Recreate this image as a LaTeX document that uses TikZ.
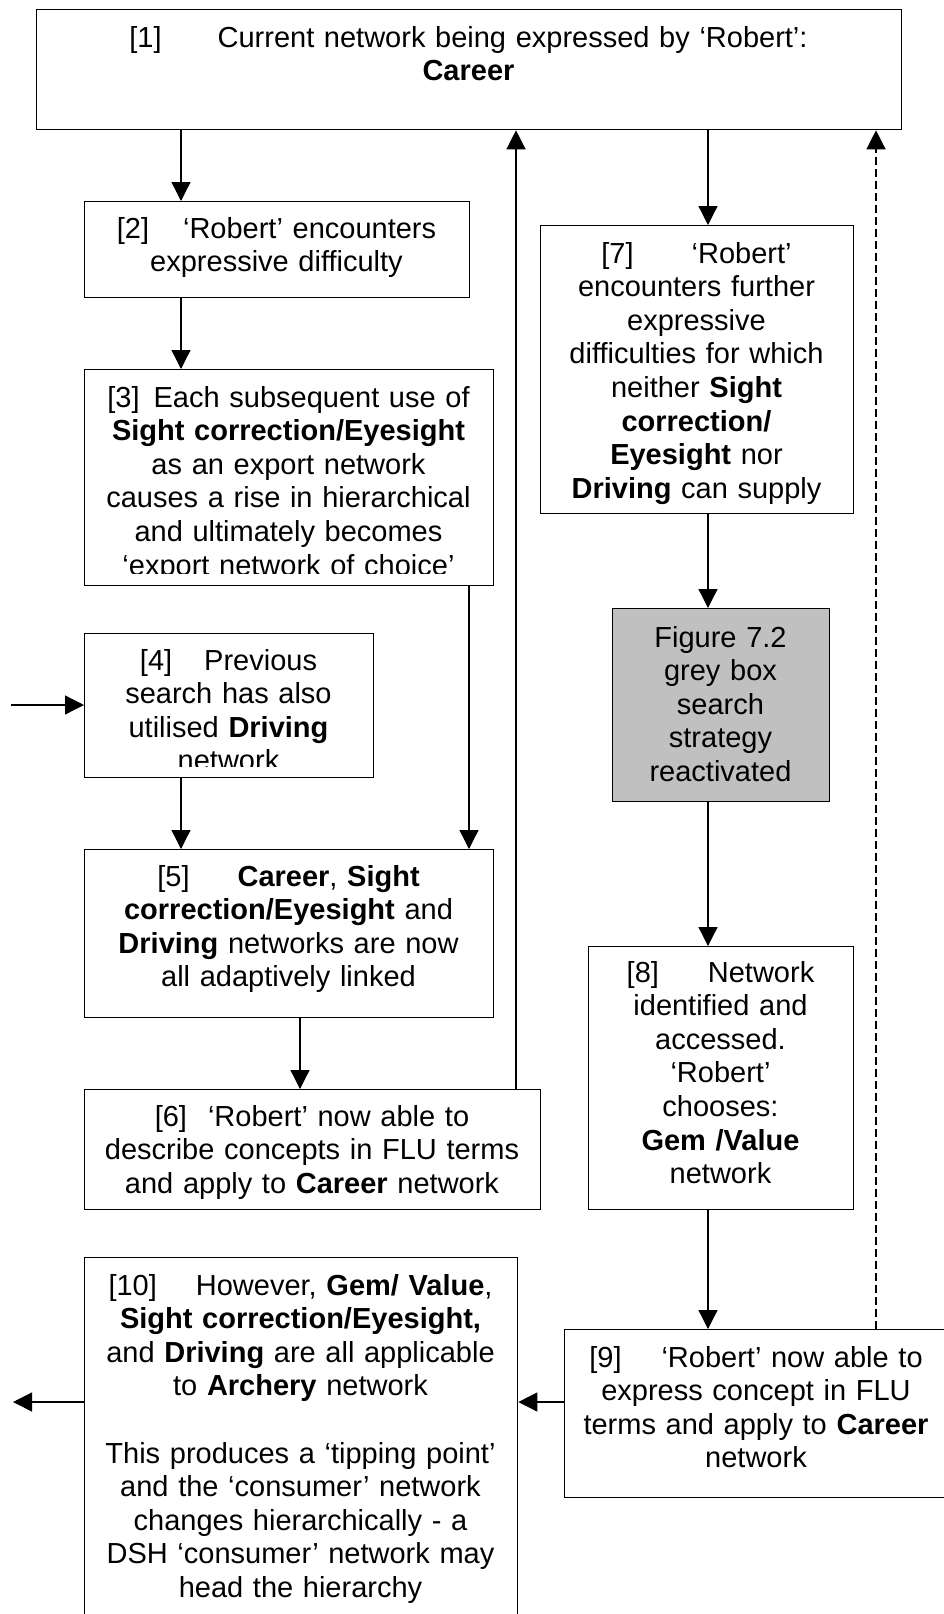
\documentclass[tikz,border=0pt]{standalone}
\usepackage{fontspec}
\setmainfont{Liberation Sans}
\usetikzlibrary{arrows.meta}
\definecolor{boxgrey}{HTML}{C0C0C0}
\tikzset{
  box/.style={draw=black, line width=1.3pt, rectangle, inner sep=0pt, anchor=north west},
  txt/.style={font=\fontsize{29}{33.6}\selectfont, align=center, inner sep=0pt, anchor=base},
  arr/.style={line width=1.3pt, -{Triangle[length=19pt,width=19pt]}},
  dasharr/.style={arr, dash pattern=on 8pt off 4pt}
}
\begin{document}
\begin{tikzpicture}[x=1pt,y=-1pt]
\useasboundingbox (0,0) rectangle (944,1614);
% column / row coordinates
\coordinate (colA) at (181,0);
\coordinate (colB) at (300,0);
\coordinate (colC) at (469,0);
\coordinate (colD) at (516,0);
\coordinate (colE) at (708,0);
\coordinate (colF) at (876,0);
\coordinate (rowA) at (0,705);
\coordinate (rowB) at (0,1402);
\coordinate (inStart) at (11,705);
\coordinate (outEnd) at (13,1402);

% boxes
\node[box, minimum width=865pt, minimum height=120pt] (b1) at (36,9) {};
\node[box, minimum width=385pt, minimum height=96pt] (b2) at (84,201) {};
\node[box, minimum width=409pt, minimum height=216pt] (b3) at (84,369) {};
\node[box, minimum width=289pt, minimum height=144pt] (b4) at (84,633) {};
\node[box, minimum width=409pt, minimum height=168pt] (b5) at (84,849) {};
\node[box, minimum width=456pt, minimum height=120pt] (b6) at (84,1089) {};
\node[box, minimum width=313pt, minimum height=288pt] (b7) at (540,225) {};
\node[box, fill=boxgrey, minimum width=217pt, minimum height=193pt] (bg) at (612,608) {};
\node[box, minimum width=265pt, minimum height=263pt] (b8) at (588,946) {};
\node[box, minimum width=384pt, minimum height=168pt] (b9) at (564,1329) {};
\node[box, minimum width=433pt, minimum height=380pt] (b10) at (84,1257) {};

% texts
\node[txt, text width=860pt] (t1) at (468.5,47)
  {[1]\hspace{56pt}Current network being expressed by ‘Robert’:\\\textbf{Career}};
\node[txt, text width=380pt] (t2) at (276.5,238)
  {[2]\hspace{34pt}‘Robert’ encounters\\expressive difficulty};
\begin{scope}
  \clip (84,369) rectangle (493,573);
  \node[txt, text width=405pt] (t3) at (288.5,407)
    {[3]\hspace{14pt}Each subsequent use of\\\textbf{Sight correction/Eyesight}\\as an export network\\causes a rise in hierarchical\\and ultimately becomes\\‘export network of choice’};
\end{scope}
\begin{scope}
  \clip (84,633) rectangle (373,766);
  \node[txt, text width=285pt] (t4) at (228.5,670)
    {[4]\hspace{32pt}Previous\\search has also\\utilised \textbf{Driving}\\network};
\end{scope}
\node[txt, text width=405pt] (t5) at (288.5,886)
  {[5]\hspace{48pt}\textbf{Career}, \textbf{Sight}\\\textbf{correction/Eyesight} and\\\textbf{Driving} networks are now\\all adaptively linked};
\node[txt, text width=450pt] (t6) at (312,1126)
  {[6]\hspace{21pt}‘Robert’ now able to\\describe concepts in FLU terms\\and apply to \textbf{Career} network};
\node[txt, text width=310pt] (t7) at (696.5,263)
  {[7]\hspace{58pt}‘Robert’\\encounters further\\expressive\\difficulties for which\\neither \textbf{Sight}\\\textbf{correction/}\\\textbf{Eyesight} nor\\\textbf{Driving} can supply};
\node[txt, text width=215pt] (tg) at (720.5,647)
  {Figure 7.2\\grey box\\search\\strategy\\reactivated};
\node[txt, text width=260pt] (t8) at (720.5,982)
  {[8]\hspace{49pt}Network\\identified and\\accessed.\\‘Robert’\\chooses:\\\textbf{Gem /Value}\\network};
\node[txt, text width=380pt] (t9) at (756,1367)
  {[9]\hspace{40pt}‘Robert’ now able to\\express concept in FLU\\terms and apply to \textbf{Career}\\network};
\node[txt, text width=430pt] (t10) at (300.5,1295)
  {[10]\hspace{39pt}However, \textbf{Gem/ Value},\\\textbf{Sight correction/Eyesight,}\\and \textbf{Driving} are all applicable\\to \textbf{Archery} network\\[33.6pt]This produces a ‘tipping point’\\and the ‘consumer’ network\\changes hierarchically - a\\DSH ‘consumer’ network may\\head the hierarchy};

% connectors
\draw[arr] (b1.south -| colA) -- (b2.north -| colA);
\draw[arr] (b2.south -| colA) -- (b3.north -| colA);
\draw[arr] (b3.south -| colC) -- (b5.north -| colC);
\draw[arr] (inStart) -- (b4.west |- rowA);
\draw[arr] (b4.south -| colA) -- (b5.north -| colA);
\draw[arr] (b5.south -| colB) -- (b6.north -| colB);
\draw[arr] (b6.north -| colD) -- (b1.south -| colD);
\draw[arr] (b1.south -| colE) -- (b7.north -| colE);
\draw[arr] (b7.south -| colE) -- (bg.north -| colE);
\draw[arr] (bg.south -| colE) -- (b8.north -| colE);
\draw[arr] (b8.south -| colE) -- (b9.north -| colE);
\draw[dasharr] (b9.north -| colF) -- (b1.south -| colF);
\draw[arr] (b9.west |- rowB) -- (b10.east |- rowB);
\draw[arr] (b10.west |- rowB) -- (outEnd);
\end{tikzpicture}
\end{document}
